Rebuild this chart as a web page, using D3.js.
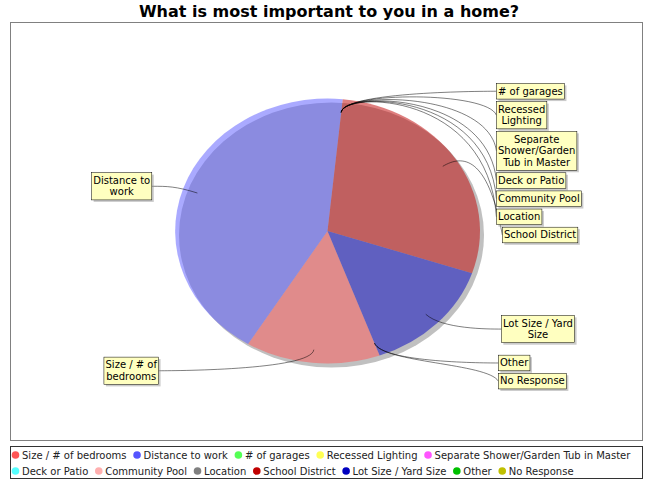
<!DOCTYPE html>
<html>
<head>
  <meta charset="utf-8">
  <script src="https://cdn.jsdelivr.net/npm/d3@7"></script>
  <style>
    body { margin: 0; background: #fff; }
    svg { display: block; font-family: "DejaVu Sans", sans-serif; }
  </style>
</head>
<body>
  <script>
    // DATA
    var chartTitle = "What is most important to you in a home?";
    var categories = ["Size / # of bedrooms", "Distance to work", "# of garages", "Recessed Lighting",
      "Separate Shower/Garden Tub in Master", "Deck or Patio", "Community Pool", "Location",
      "School District", "Lot Size / Yard Size", "Other", "No Response"];
    var responses = [2, 6, 0, 0, 0, 0, 0, 0, 4, 2, 0, 0];
    var seriesColors = ["#ff5555", "#5555ff", "#55ff55", "#ffff55", "#ff55ff", "#55ffff",
      "#ffafaf", "#808080", "#c00000", "#0000c0", "#00c000", "#c0c000"];

    var width = 645, height = 480;
    var plotBox = { x: 10.5, y: 22.5, w: 632, h: 418 };
    var legendBox = { x: 10.5, y: 446.5, w: 632, h: 32 };

    // pie geometry (ellipse)
    var cx = 327.5, cy = 231, rx = 152.5, ry = 132.5;
    var linkPercent = 0.9, halfGap = 8;
    var linkRx = rx * 1.05, linkRy = ry * 1.06;
    var maxLabelWidth = 83, lineH = 11.64, padX = 1.6, padY = 2, minGap = 2.5;

    var svg = d3.select("body").append("svg")
      .attr("width", width)
      .attr("height", height);

    // title
    svg.append("text")
      .attr("x", 329)
      .attr("y", 17)
      .attr("text-anchor", "middle")
      .style("font-weight", "bold")
      .style("font-size", "16px")
      .text(chartTitle);

    // plot frame
    svg.append("rect")
      .attr("x", plotBox.x).attr("y", plotBox.y)
      .attr("width", plotBox.w).attr("height", plotBox.h)
      .attr("fill", "#fff")
      .attr("stroke", "#808080");

    var rows = categories.map(function (c, i) {
      return { name: c, value: responses[i], color: seriesColors[i] };
    });

    var deg = Math.PI / 180;
    var pie = d3.pie()
      .sort(null)
      .value(function (d) { return d.value; })
      .startAngle(160 * deg)
      .endAngle(520 * deg);
    var arcs = pie(rows);
    var arc = d3.arc().innerRadius(0).outerRadius(1);

    // shadow, then half transparent sections on top of it
    svg.append("g")
      .attr("transform", "translate(" + (cx + 4) + "," + (cy + 4) + ") scale(" + rx + "," + ry + ")")
      .append("path")
      .attr("d", arc({ startAngle: 0, endAngle: 2 * Math.PI }))
      .attr("fill", "#c0c0c0");

    svg.append("g")
      .attr("transform", "translate(" + cx + "," + cy + ") scale(" + rx + "," + ry + ")")
      .selectAll("path")
      .data(arcs.filter(function (d) { return d.value > 0; }))
      .enter().append("path")
      .attr("d", arc)
      .attr("fill", function (d) { return d.data.color; })
      .attr("fill-opacity", 0.5);

    // measuring helper
    var meas = svg.append("text").style("font-size", "10px").attr("opacity", 0);
    function textW(s) { meas.text(s); return meas.node().getComputedTextLength(); }

    function wrap(s) {
      var words = s.split(" "), lines = [], cur = "";
      words.forEach(function (w) {
        var t = cur ? cur + " " + w : w;
        if (cur && textW(t) > maxLabelWidth) { lines.push(cur); cur = w; }
        else cur = t;
      });
      lines.push(cur);
      return lines;
    }

    // label records
    var leftRecs = [], rightRecs = [];
    arcs.forEach(function (a) {
      var mid = (a.startAngle + a.endAngle) / 2;
      var s = Math.sin(mid), c = Math.cos(mid);
      var lines = wrap(a.data.name);
      var rec = {
        name: a.data.name, lines: lines, mid: mid,
        w: d3.max(lines, textW) + 2 * padX,
        h: lines.length * lineH + 2 * padY,
        baseY: cy - c * linkRy,
        right: s >= 0
      };
      rec.gap = rec.right ? halfGap * (1 + s) : halfGap * (1 - s);
      (rec.right ? rightRecs : leftRecs).push(rec);
    });

    // spread labels vertically so they do not overlap
    function overlap(r) {
      for (var i = 0; i < r.length - 1; i++) {
        if (r[i + 1].y - r[i + 1].h / 2 < r[i].y + r[i].h / 2) return true;
      }
      return false;
    }
    function distribute(r, minY, hh) {
      r.sort(function (a, b) { return a.baseY - b.baseY; });
      r.forEach(function (d) { d.y = d.baseY; });
      var i;
      if (overlap(r)) {
        for (i = 0; i < r.length - 1; i++) {
          if (r[i + 1].y - r[i + 1].h / 2 < r[i].y + r[i].h / 2) {
            r[i + 1].y = Math.min(minY + hh - r[i + 1].h / 2, r[i].y + r[i].h / 2 + minGap + r[i + 1].h / 2);
          }
        }
      }
      if (overlap(r)) {
        for (i = r.length - 1; i > 0; i--) {
          if (r[i - 1].y + r[i - 1].h / 2 > r[i].y - r[i].h / 2) {
            r[i - 1].y = Math.max(minY, r[i].y - r[i].h / 2 - minGap - r[i - 1].h / 2);
          }
        }
      }
    }
    var gapY = plotBox.h * 0.04;
    distribute(rightRecs, plotBox.y + gapY, plotBox.h - 2 * gapY);
    distribute(leftRecs, plotBox.y + gapY, plotBox.h - 2 * gapY);

    var all = leftRecs.concat(rightRecs);
    all.forEach(function (d) {
      var s = Math.sin(d.mid), c = Math.cos(d.mid);
      var anchorX = d.right ? cx + linkRx : cx - linkRx;
      d.tx = d.right ? anchorX + d.gap : anchorX - d.gap;
      d.elbow = [cx + s * linkRx, cy - c * linkRy];
      d.anchor = [anchorX, d.elbow[1]];
      d.link = [cx + s * rx * linkPercent, cy - c * ry * linkPercent];
      d.bx = d.right ? d.tx : d.tx - d.w;
    });

    // link curves
    svg.append("g")
      .selectAll("path")
      .data(all)
      .enter().append("path")
      .attr("d", function (d) {
        var p = d3.path();
        p.moveTo(d.tx, d.y);
        p.bezierCurveTo(d.anchor[0], d.anchor[1], d.elbow[0], d.elbow[1], d.link[0], d.link[1]);
        return p.toString();
      })
      .attr("fill", "none")
      .attr("stroke", "#000")
      .attr("stroke-width", 0.5);

    // label boxes
    var lab = svg.append("g")
      .selectAll("g")
      .data(all)
      .enter().append("g")
      .attr("transform", function (d) { return "translate(" + d.bx + "," + (d.y - d.h / 2) + ")"; });

    lab.append("rect")
      .attr("x", 2).attr("y", 2)
      .attr("width", function (d) { return d.w; })
      .attr("height", function (d) { return d.h; })
      .attr("fill", "rgba(151,151,151,0.5)");

    lab.append("rect")
      .attr("width", function (d) { return d.w; })
      .attr("height", function (d) { return d.h; })
      .attr("fill", "#ffffc0")
      .attr("stroke", "#000")
      .attr("stroke-width", 0.5);

    lab.each(function (d) {
      var g = d3.select(this);
      d.lines.forEach(function (l, i) {
        g.append("text")
          .attr("x", d.w / 2)
          .attr("y", padY + i * lineH + 9.2)
          .attr("text-anchor", "middle")
          .style("font-size", "10px")
          .attr("fill", "#000")
          .text(l);
      });
    });

    // legend
    svg.append("rect")
      .attr("x", legendBox.x).attr("y", legendBox.y)
      .attr("width", legendBox.w).attr("height", legendBox.h)
      .attr("fill", "#fff")
      .attr("stroke", "#333");

    var lx = 12, row = 0, rowH = 16, legendRight = legendBox.x + legendBox.w - 2;
    var legend = svg.append("g");
    rows.forEach(function (d) {
      var tw = textW(d.name);
      var adv = 11 + tw + 6;
      if (lx + 11 + tw > legendRight) { row += 1; lx = 12; }
      var yy = legendBox.y + 8.5 + row * rowH;
      legend.append("circle")
        .attr("cx", lx + 3.5)
        .attr("cy", yy)
        .attr("r", 3.8)
        .attr("fill", d.color);
      legend.append("text")
        .attr("x", lx + 10)
        .attr("y", yy + 3.6)
        .style("font-size", "10px")
        .attr("fill", "#222")
        .text(d.name);
      lx += adv;
    });
    meas.remove();
  </script>
</body>
</html>
